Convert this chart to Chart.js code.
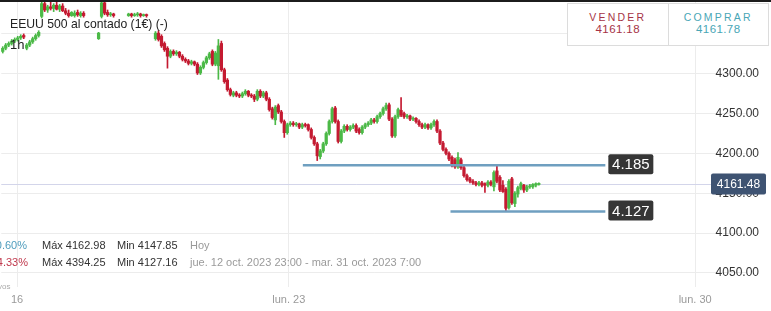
<!DOCTYPE html>
<html lang="es">
<head>
  <meta charset="UTF-8">
  <title>EEUU 500 al contado</title>
  <script src="https://cdn.jsdelivr.net/npm/chart.js@4.4.1/dist/chart.umd.min.js"></script>
  <style>
    * { margin: 0; padding: 0; }
    body { background: #fff; font-family: 'Liberation Sans', Arial, sans-serif; }
    .wrap { position: relative; width: 771px; height: 311px; overflow: hidden; }
    #chart { position: absolute; left: 0; top: 0; }
    .topbar { position: absolute; left: 0; top: 0; width: 771px; height: 2px; background: #1c1c1c; }
    .title { position: absolute; left: 10px; top: 17px; font-size: 12.2px; color: #222; white-space: nowrap; }
    .tf { position: absolute; left: 10px; top: 37px; font-size: 13px; color: #222; }
    .quote { position: absolute; left: 567px; top: 3px; width: 200px; height: 41px; border: 1px solid #dcdcdc; background: #fff; display: flex; }
    .quote div { flex: 1; text-align: center; padding-top: 8px; font-size: 10.5px; letter-spacing: 2.2px; line-height: 11px; }
    .quote div + div { border-left: 1px solid #dcdcdc; }
    .quote span { display: block; font-size: 11.5px; letter-spacing: 0.4px; line-height: 13px; }
    .sell { color: #a63346; }
    .buy { color: #49a6b6; }
    .stats { position: absolute; left: 0; font-size: 11px; color: #333; white-space: nowrap; }
    .stats b { font-weight: normal; position: absolute; right: 0; }
    .stats i { font-style: normal; position: absolute; }
    .muted { color: #9a9a9a; }
    .vos { position: absolute; left: -2px; top: 282px; font-size: 8px; color: #aaa; }
  </style>
</head>
<body>
<div class="wrap">
  <canvas id="chart" width="771" height="311"></canvas>
  <div class="topbar"></div>
  <div class="title">EEUU 500 al contado (1€) (-)</div>
  <div class="tf">1h</div>
  <div class="quote">
    <div class="sell">VENDER<span>4161.18</span></div>
    <div class="buy">COMPRAR<span>4161.78</span></div>
  </div>
  <div class="stats" style="top:239px;width:27px;height:14px">
    <b style="color:#4f9dbd">0.60%</b>
    <i style="left:42px">Máx 4162.98</i>
    <i style="left:117px">Min 4147.85</i>
    <i class="muted" style="left:190px">Hoy</i>
  </div>
  <div class="stats" style="top:256px;width:28px;height:14px">
    <b style="color:#c0394d">-4.33%</b>
    <i style="left:42px">Máx 4394.25</i>
    <i style="left:117px">Min 4127.16</i>
    <i class="muted" style="left:190px">jue. 12 oct. 2023 23:00 - mar. 31 oct. 2023 7:00</i>
  </div>
  <div class="vos">vos</div>
</div>

<script>
  // hourly candles
  const open = [
    4328,4332,4336,4338,4341,4343,4345,4348,4332,4336,
    4340,4344,4348,4372,4388,4380,4384,4382,4386,4381,
    4385,4379,4376,4373,4373,4377,4373,4376,4392,4393.5,
    4393,4392.5,4344,4372,4389,4377,4374,4375,4392,4393,
    4392.5,4393,4373,4375,4373,4374,4375,4373,4374,4392,
    4393,4344,4351,4347,4338,4332,4322,4328,4325,4327,
    4322,4318,4316,4313,4315,4312,4301,4308,4314,4320,
    4328,4312,4310,4338,4305,4292,4280,4273,4276,4273,
    4272,4275,4278,4273,4272,4268,4278,4272,4276,4268,
    4256,4242,4260,4252,4240,4226,4236,4238,4236,4237,
    4233,4236,4236,4230,4220,4212,4196,4203,4212,4225,
    4240,4257,4240,4215,4228,4234,4230,4233,4235,4230,
    4226,4233,4236,4238,4242,4240,4246,4250,4256,4261,
    4243,4222,4246,4254,4250,4246,4247,4243,4244,4240,
    4236,4233,4236,4232,4236,4240,4228,4213,4205,4200,
    4195,4192,4183,4192,4182,4172,4168,4165,4163,4161,
    4163,4162,4160,4164,4158,4178,4170,4160,4155,4132,
    4168,4137,4149,4156,4160,4154,4158,4158,4160,4161
  ];
  const high = [
    4334,4338,4340,4343,4345,4347,4349,4350,4338,4342,
    4346,4350,4354,4394,4394,4386,4390,4388,4390,4387,
    4388,4382,4380,4378,4379,4380,4378,4378,4394,4394.25,
    4394,4393.5,4352,4394,4393,4380,4377,4376,4394,4394,
    4394,4394,4376,4376,4376,4377,4376,4375,4375,4394,
    4394,4353,4354,4349,4340,4334,4330,4330,4329,4328,
    4324,4320,4318,4317,4316,4314,4310,4316,4322,4327,
    4330,4328,4343,4341,4307,4294,4282,4278,4278,4275,
    4277,4280,4279,4275,4274,4280,4280,4278,4278,4270,
    4258,4260,4262,4254,4242,4238,4240,4240,4239,4238,
    4238,4238,4237,4232,4222,4214,4205,4214,4227,4242,
    4258,4259,4242,4230,4236,4236,4235,4237,4237,4232,
    4235,4238,4240,4244,4244,4248,4252,4258,4263,4263,
    4245,4248,4257,4270,4252,4249,4248,4246,4245,4242,
    4238,4238,4237,4238,4242,4242,4230,4215,4207,4202,
    4197,4194,4201,4194,4184,4174,4170,4167,4165,4165,
    4165,4163,4166,4166,4178,4185,4172,4166,4157,4167,
    4170,4152,4159,4164,4161,4160,4161,4162,4163,4163
  ];
  const low = [
    4326,4330,4334,4336,4339,4341,4343,4344,4330,4334,
    4338,4342,4346,4370,4378,4377,4380,4378,4380,4378,
    4378,4374,4371,4372,4371,4372,4371,4371,4391.5,4392,
    4391.5,4391.5,4343,4370,4374,4372,4372,4371,4391.5,4392,
    4391.5,4392,4372,4371,4372,4372,4371,4372,4371,4391.5,
    4392,4342,4341,4333,4328,4307,4320,4323,4323,4320,
    4316,4314,4311,4311,4310,4299,4299,4306,4312,4318,
    4310,4310,4293,4303,4288,4278,4272,4271,4271,4270,
    4270,4273,4271,4270,4265,4266,4270,4270,4266,4253,
    4243,4236,4250,4238,4220,4224,4234,4234,4234,4231,
    4231,4233,4228,4218,4210,4191,4193,4201,4210,4223,
    4238,4238,4213,4213,4226,4228,4228,4231,4226,4224,
    4224,4231,4234,4236,4238,4238,4244,4248,4254,4241,
    4220,4220,4244,4246,4244,4244,4241,4241,4238,4234,
    4231,4231,4230,4230,4234,4226,4211,4203,4198,4191,
    4183,4181,4181,4180,4170,4165,4163,4161,4159,4159,
    4158,4151,4158,4159,4153,4163,4152,4151,4127.16,4130,
    4136,4133,4145,4154,4151,4152,4156,4156,4158,4160
  ];
  const close = [
    4332,4336,4338,4341,4343,4345,4347,4346,4336,4340,
    4344,4348,4352,4388,4380,4384,4382,4386,4381,4385,
    4379,4376,4373,4377,4376,4374,4376,4373,4393.5,4393,
    4392.5,4392,4351,4389,4376,4374,4375,4373,4393,4392.5,
    4393,4392,4375,4373,4374,4375,4373,4374,4373,4393,
    4392.5,4351,4343,4335,4330,4322,4328,4325,4327,4322,
    4318,4316,4313,4315,4312,4301,4308,4314,4320,4325,
    4312,4326,4335,4305,4290,4280,4274,4276,4273,4272,
    4275,4278,4273,4272,4268,4278,4272,4276,4268,4255,
    4245,4258,4252,4240,4226,4236,4238,4236,4237,4233,
    4236,4235,4230,4220,4212,4197,4203,4212,4225,4240,
    4256,4240,4215,4228,4234,4230,4233,4235,4228,4226,
    4233,4236,4238,4242,4240,4246,4250,4256,4260,4243,
    4222,4246,4255,4248,4246,4247,4243,4244,4240,4236,
    4233,4236,4232,4236,4240,4228,4213,4205,4200,4193,
    4185,4183,4195,4182,4172,4167,4165,4163,4161,4163,
    4160,4160,4164,4161,4176,4165,4154,4152,4131,4165,
    4138,4150,4157,4162,4154,4158,4159,4161,4162,4161.48
  ];

  // x axis labels (candle index where the day starts)
  const xTickPos = [4.8, 95.5, 231.2];
  const xTickLabels = ['16', 'lun. 23', 'lun. 30'];

  // drawn support / resistance levels
  const levelValues = [4185, 4127];
  const levelLabels = ['4.185', '4.127'];
  const levelFrom = [100.2, 149.5];
  const levelTo = 201.2;

  const lastPrice = close[close.length - 1];

  const UP = '#4bb947';
  const DOWN = '#c41a31';
  const candleColor = close.map((c, i) => c >= open[i] ? UP : DOWN);

  Chart.defaults.font.family = "'Liberation Sans', Arial, sans-serif";
  Chart.defaults.font.size = 12;

  const overlay = {
    id: 'overlay',
    beforeDatasetsDraw(chart) {
      const {ctx, chartArea, scales} = chart;
      const y = Math.round(scales.y.getPixelForValue(lastPrice)) + 0.5;
      ctx.save();
      ctx.strokeStyle = '#d3d5ea';
      ctx.lineWidth = 1;
      ctx.beginPath();
      ctx.moveTo(chartArea.left, y);
      ctx.lineTo(chart.width - 60, y);
      ctx.stroke();
      ctx.restore();
    },
    afterDatasetsDraw(chart) {
      const {ctx, scales} = chart;
      ctx.save();
      ctx.textAlign = 'center';
      ctx.textBaseline = 'middle';
      // level tags
      ctx.font = "15px 'Liberation Sans', Arial, sans-serif";
      levelValues.forEach((v, k) => {
        const x = scales.x.getPixelForValue(levelTo) + 3;
        const y = scales.y.getPixelForValue(v);
        ctx.fillStyle = '#363636';
        ctx.beginPath();
        ctx.roundRect(x, y - 11, 45, 20, 2);
        ctx.fill();
        ctx.fillStyle = '#fff';
        ctx.fillText(levelLabels[k], x + 22.5, y);
      });
      // last price badge
      const by = scales.y.getPixelForValue(lastPrice);
      const bx = chart.width - 60;
      ctx.fillStyle = '#3e5372';
      ctx.beginPath();
      ctx.roundRect(bx, by - 10.5, 55, 21, 2);
      ctx.fill();
      ctx.fillStyle = '#fff';
      ctx.font = "12px 'Liberation Sans', Arial, sans-serif";
      ctx.fillText(lastPrice.toFixed(2), bx + 27.5, by + 0.5);
      ctx.restore();
    }
  };

  const idx = close.map((c, i) => i);

  const chart = new Chart(document.getElementById('chart'), {
    type: 'bar',
    data: {
      datasets: [
        {
          label: 'cuerpo',
          data: idx.map(i => ({x: i, y: [open[i], close[i]]})),
          backgroundColor: candleColor,
          barThickness: 2.6,
          minBarLength: 1,
          grouped: false,
          clip: false,
          order: 1
        },
        {
          label: 'mecha',
          data: idx.map(i => ({x: i, y: [low[i], high[i]]})),
          backgroundColor: candleColor,
          barThickness: 1,
          grouped: false,
          clip: false,
          order: 2
        },
        ...levelValues.map((v, k) => ({
          type: 'line',
          label: levelLabels[k],
          data: [{x: levelFrom[k], y: v}, {x: levelTo, y: v}],
          borderColor: '#6f9fc0',
          borderWidth: 2.5,
          pointRadius: 0,
          order: 0
        }))
      ]
    },
    options: {
      responsive: false,
      animation: false,
      layout: { padding: 0 },
      plugins: {
        legend: { display: false },
        tooltip: { enabled: false }
      },
      scales: {
        x: {
          type: 'linear',
          min: -0.5,
          max: 256.5,
          offset: false,
          grid: { color: '#ececec', drawTicks: false, offset: false },
          border: { display: false },
          afterBuildTicks: (scale) => { scale.ticks = xTickPos.map(v => ({value: v})); },
          afterFit: (scale) => { scale.height = 24; scale.paddingLeft = 0; scale.paddingRight = 0; },
          ticks: {
            padding: 6,
            color: '#9a9a9a',
            font: { size: 11 },
            autoSkip: false,
            maxRotation: 0,
            callback: (v, i) => xTickLabels[i]
          }
        },
        y: {
          type: 'linear',
          position: 'right',
          min: 4032,
          max: 4391,
          grid: { color: '#ececec', drawTicks: false },
          border: { display: false },
          afterFit: (scale) => { scale.paddingTop = 0; scale.paddingBottom = 0; },
          ticks: {
            mirror: true,
            padding: 12,
            stepSize: 50,
            includeBounds: false,
            color: '#333',
            font: { size: 12 },
            callback: v => v.toFixed(2)
          }
        }
      }
    },
    plugins: [overlay]
  });

  // pin the scales so that the candles land where they sit in the screenshot
  const area = chart.chartArea;
  chart.options.scales.x.min = (area.left - 1.5) / 3;
  chart.options.scales.x.max = (area.right - 1.5) / 3;
  chart.options.scales.y.max = 4391 - 1.25 * area.top;
  chart.options.scales.y.min = 4391 - 1.25 * area.bottom;
  chart.update('none');
</script>
</body>
</html>
